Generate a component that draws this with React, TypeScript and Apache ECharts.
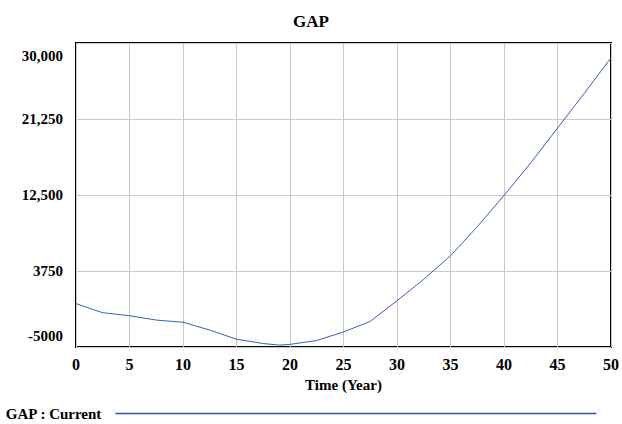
import React, { useEffect, useRef } from "react";
import * as echarts from "echarts";

// Simulation output: GAP over time (years)
const years = [0, 1.25, 2.5, 5, 7.5, 10, 12.5, 15, 17.5, 19, 20, 22.5, 25, 27.5, 30, 32.5, 35, 37.5, 40, 42.5, 45, 47.5, 50];
const gapValues = [0, -550, -1050, -1400, -1900, -2150, -3050, -4100, -4600, -4780, -4700, -4250, -3270, -2050, 330, 2800, 5500, 8850, 12450, 16200, 20200, 24200, 28300];

const yTicks = [-5000, 3750, 12500, 21250, 30000];
const yTickLabels = ["-5000", "3750", "12,500", "21,250", "30,000"];

const seriesName = "GAP : Current";
const FONT = "'Liberation Serif', 'Times New Roman', serif";
const LINE_COLOR = "#3a5cbd";

export default function App() {
  const ref = useRef<HTMLDivElement>(null);

  useEffect(() => {
    if (!ref.current) return;
    const chart = echarts.init(ref.current, undefined, { renderer: "svg" });
    const data = years.map((t, i) => [t, gapValues[i]]);
    const yMin = yTicks[0];
    const yMax = yTicks[yTicks.length - 1];

    chart.setOption({
      animation: false,
      backgroundColor: "#ffffff",
      title: {
        text: "GAP",
        left: "center",
        top: 8,
        textStyle: { fontFamily: FONT, fontWeight: "bold", fontSize: 17, color: "#000" },
      },
      legend: {
        left: 0,
        top: 401,
        align: "right",
        icon: "rect",
        itemWidth: 481,
        itemHeight: 1.5,
        selectedMode: false,
        data: [seriesName],
        itemStyle: { color: "#2f4fae" },
        textStyle: {
          fontFamily: FONT,
          fontWeight: "bold",
          fontSize: 15,
          color: "#000",
          padding: [0, 9, 0, 0],
        },
      },
      grid: {
        left: 76,
        right: 11,
        top: 43,
        bottom: 77,
        show: true,
        borderColor: "#000",
        borderWidth: 2,
        backgroundColor: "transparent",
      },
      xAxis: {
        type: "value",
        min: 0,
        max: 50,
        interval: 5,
        name: "Time (Year)",
        nameLocation: "middle",
        nameGap: 30,
        nameTextStyle: { fontFamily: FONT, fontWeight: "bold", fontSize: 15, color: "#000" },
        axisLine: { show: false },
        axisTick: { show: false },
        axisLabel: {
          margin: 9,
          fontFamily: FONT,
          fontWeight: "bold",
          fontSize: 16,
          color: "#000",
        },
        splitLine: { show: true, lineStyle: { color: "#c9c9c9", width: 1 } },
      },
      yAxis: {
        type: "value",
        min: yMin,
        max: yMax,
        axisLine: { show: false },
        axisTick: { show: false, customValues: yTicks },
        axisLabel: {
          customValues: yTicks,
          margin: 13,
          fontFamily: FONT,
          fontWeight: "bold",
          fontSize: 15,
          color: "#000",
          formatter: (v: number) => {
            const idx = yTicks.indexOf(v);
            const label = idx >= 0 ? yTickLabels[idx] : String(v);
            if (v === yMax) return `{top|${label}}`;
            if (v === yMin) return `{bot|${label}}`;
            return label;
          },
          rich: {
            top: { padding: [26, 0, 0, 0], fontFamily: FONT, fontWeight: "bold", fontSize: 15, color: "#000" },
            bot: { padding: [0, 0, 22, 0], fontFamily: FONT, fontWeight: "bold", fontSize: 15, color: "#000" },
          },
        },
        splitLine: { show: true, lineStyle: { color: "#c9c9c9", width: 1 } },
      },
      series: [
        {
          name: seriesName,
          type: "line",
          data,
          symbol: "none",
          smooth: false,
          lineStyle: { color: LINE_COLOR, width: 1 },
          itemStyle: { color: LINE_COLOR },
        },
      ],
    });

    return () => chart.dispose();
  }, []);

  return (
    <div
      ref={ref}
      style={{ position: "fixed", left: 0, top: 0, width: 622, height: 424, background: "#fff" }}
    />
  );
}
